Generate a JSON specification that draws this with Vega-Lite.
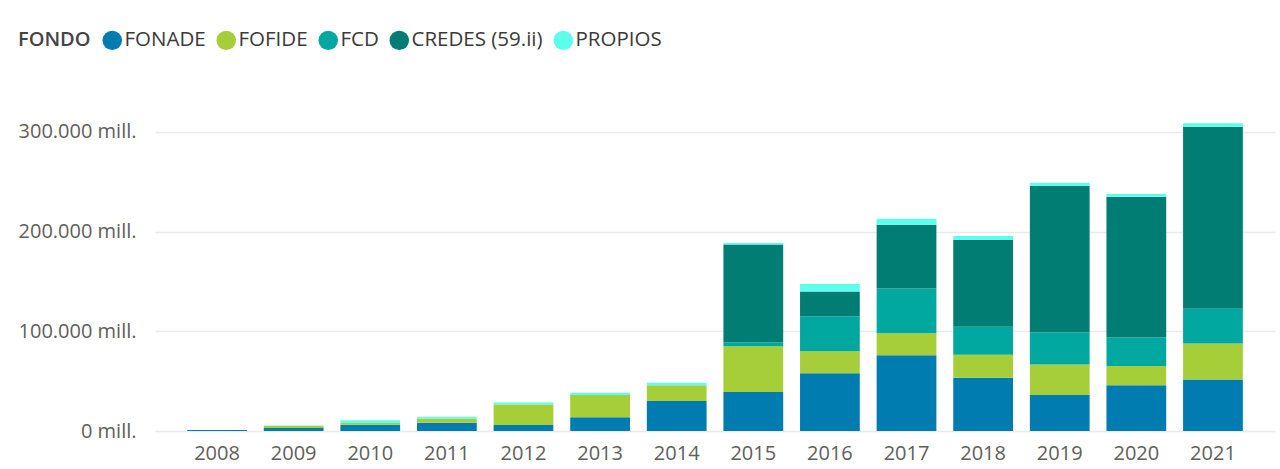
{
  "$schema": "https://vega.github.io/schema/vega-lite/v6.json",
  "autosize": {"type": "none"},
  "padding": {"left": 155, "top": 112, "right": 5, "bottom": 38},
  "width": 1120,
  "height": 319,
  "background": "white",
  "data": {"values": [
    {"anio": "2008", "fondo": "FONADE", "valor": 1000},
    {"anio": "2009", "fondo": "FONADE", "valor": 3000},
    {"anio": "2009", "fondo": "FOFIDE", "valor": 2000},
    {"anio": "2009", "fondo": "PROPIOS", "valor": 500},
    {"anio": "2010", "fondo": "FONADE", "valor": 6300},
    {"anio": "2010", "fondo": "FOFIDE", "valor": 1700},
    {"anio": "2010", "fondo": "PROPIOS", "valor": 2700},
    {"anio": "2011", "fondo": "FONADE", "valor": 8300},
    {"anio": "2011", "fondo": "FOFIDE", "valor": 4300},
    {"anio": "2011", "fondo": "PROPIOS", "valor": 1700},
    {"anio": "2012", "fondo": "FONADE", "valor": 6000},
    {"anio": "2012", "fondo": "FOFIDE", "valor": 20700},
    {"anio": "2012", "fondo": "PROPIOS", "valor": 2000},
    {"anio": "2013", "fondo": "FONADE", "valor": 13700},
    {"anio": "2013", "fondo": "FOFIDE", "valor": 22300},
    {"anio": "2013", "fondo": "PROPIOS", "valor": 2300},
    {"anio": "2014", "fondo": "FONADE", "valor": 30000},
    {"anio": "2014", "fondo": "FOFIDE", "valor": 16000},
    {"anio": "2014", "fondo": "PROPIOS", "valor": 2300},
    {"anio": "2015", "fondo": "FONADE", "valor": 39000},
    {"anio": "2015", "fondo": "FOFIDE", "valor": 46000},
    {"anio": "2015", "fondo": "FCD", "valor": 4000},
    {"anio": "2015", "fondo": "CREDES (59.ii)", "valor": 98000},
    {"anio": "2015", "fondo": "PROPIOS", "valor": 1500},
    {"anio": "2016", "fondo": "FONADE", "valor": 58000},
    {"anio": "2016", "fondo": "FOFIDE", "valor": 22000},
    {"anio": "2016", "fondo": "FCD", "valor": 35000},
    {"anio": "2016", "fondo": "CREDES (59.ii)", "valor": 25000},
    {"anio": "2016", "fondo": "PROPIOS", "valor": 7500},
    {"anio": "2017", "fondo": "FONADE", "valor": 76000},
    {"anio": "2017", "fondo": "FOFIDE", "valor": 22000},
    {"anio": "2017", "fondo": "FCD", "valor": 45000},
    {"anio": "2017", "fondo": "CREDES (59.ii)", "valor": 64000},
    {"anio": "2017", "fondo": "PROPIOS", "valor": 6000},
    {"anio": "2018", "fondo": "FONADE", "valor": 53500},
    {"anio": "2018", "fondo": "FOFIDE", "valor": 23000},
    {"anio": "2018", "fondo": "FCD", "valor": 28000},
    {"anio": "2018", "fondo": "CREDES (59.ii)", "valor": 87000},
    {"anio": "2018", "fondo": "PROPIOS", "valor": 4000},
    {"anio": "2019", "fondo": "FONADE", "valor": 36000},
    {"anio": "2019", "fondo": "FOFIDE", "valor": 30700},
    {"anio": "2019", "fondo": "FCD", "valor": 32000},
    {"anio": "2019", "fondo": "CREDES (59.ii)", "valor": 147000},
    {"anio": "2019", "fondo": "PROPIOS", "valor": 3300},
    {"anio": "2020", "fondo": "FONADE", "valor": 46000},
    {"anio": "2020", "fondo": "FOFIDE", "valor": 19300},
    {"anio": "2020", "fondo": "FCD", "valor": 28400},
    {"anio": "2020", "fondo": "CREDES (59.ii)", "valor": 141300},
    {"anio": "2020", "fondo": "PROPIOS", "valor": 2700},
    {"anio": "2021", "fondo": "FONADE", "valor": 51700},
    {"anio": "2021", "fondo": "FOFIDE", "valor": 36000},
    {"anio": "2021", "fondo": "FCD", "valor": 35000},
    {"anio": "2021", "fondo": "CREDES (59.ii)", "valor": 182600},
    {"anio": "2021", "fondo": "PROPIOS", "valor": 3400}
  ]},
  "transform": [
    {"calculate": "indexof(['FONADE', 'FOFIDE', 'FCD', 'CREDES (59.ii)', 'PROPIOS'], datum.fondo)", "as": "orden"}
  ],
  "mark": {"type": "bar"},
  "encoding": {
    "x": {
      "field": "anio", "type": "ordinal",
      "scale": {"paddingInner": 0.22, "paddingOuter": 0.42},
      "axis": {"title": null, "labelAngle": 0, "domain": false, "ticks": false, "labelPadding": 12,
               "labelFont": "Open Sans", "labelFontSize": 20, "labelColor": "#605E5C"}
    },
    "y": {
      "field": "valor", "type": "quantitative", "aggregate": "sum", "stack": "zero",
      "scale": {"domain": [0, 320000], "nice": false},
      "axis": {"title": null, "values": [0, 100000, 200000, 300000], "domain": false, "ticks": false,
               "labelPadding": 19, "labelFont": "Open Sans", "labelFontSize": 20, "labelColor": "#605E5C",
               "gridColor": "#EAEAEA", "gridWidth": 1.5,
               "labelExpr": "replace(format(datum.value, ',d'), ',', '.') + ' mill.'"}
    },
    "order": {"field": "orden", "type": "quantitative", "sort": "ascending"},
    "color": {
      "field": "fondo", "type": "nominal",
      "sort": ["FONADE", "FOFIDE", "FCD", "CREDES (59.ii)", "PROPIOS"],
      "scale": {"domain": ["FONADE", "FOFIDE", "FCD", "CREDES (59.ii)", "PROPIOS"],
                "range": ["#017CB0", "#A6CE39", "#00A8A0", "#017D73", "#5CFFEE"]},
      "legend": {
        "title": "FONDO", "orient": "none", "legendX": -137, "legendY": -82, "direction": "horizontal",
        "titleOrient": "left", "titleFont": "Open Sans", "titleFontSize": 20, "titleFontWeight": 600,
        "titleColor": "#444444", "titlePadding": 11,
        "labelFont": "Open Sans", "labelFontSize": 20.5, "labelColor": "#3B3A39", "labelOffset": 2,
        "symbolType": "circle", "symbolSize": 380, "symbolStrokeWidth": 0, "columnPadding": 10
      }
    }
  },
  "config": {"view": {"stroke": null}}
}
